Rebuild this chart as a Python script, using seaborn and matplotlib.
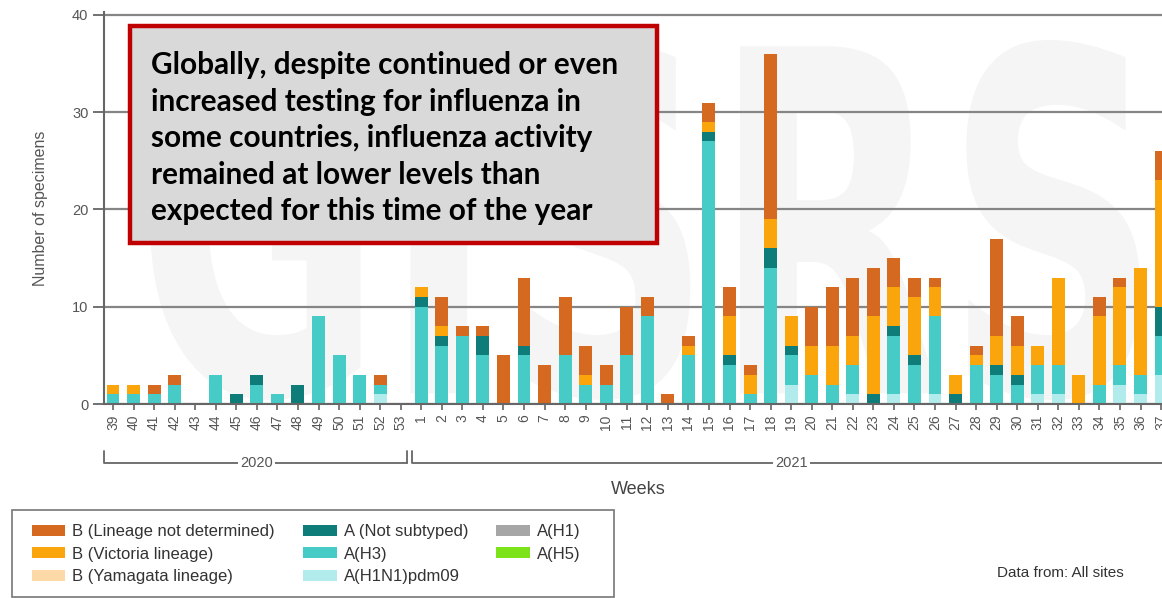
import numpy as np
import pandas as pd
import matplotlib
matplotlib.use("Agg")
import matplotlib.pyplot as plt
import seaborn as sns
from matplotlib.patches import Rectangle, Patch, PathPatch
from matplotlib.textpath import TextPath
from matplotlib.font_manager import FontProperties
from matplotlib.transforms import Affine2D, blended_transform_factory

# ---------------- data ----------------
weeks_2020 = [str(w) for w in range(39, 54)]
weeks_2021 = [str(w) for w in range(1, 38)]
week_labels = weeks_2020 + weeks_2021
week_keys = [f"2020-{w}" for w in weeks_2020] + [f"2021-{w}" for w in weeks_2021]

a_h1n1pdm09 = [0, 0, 0, 0, 0, 0, 0, 0, 0, 0, 0, 0, 0, 1, 0,
               0, 0, 0, 0, 0, 0, 0, 0, 0, 0, 0, 0, 0, 0, 0, 0, 0, 0,
               2, 0, 0, 1, 0, 1, 0, 1, 0, 0, 0, 0, 1, 1, 0, 0, 2, 1, 3]
a_h3 = [1, 1, 1, 2, 0, 3, 0, 2, 1, 0, 9, 5, 3, 1, 0,
        10, 6, 7, 5, 0, 5, 0, 5, 2, 2, 5, 9, 0, 5, 27, 4, 1, 14,
        3, 3, 2, 3, 0, 6, 4, 8, 0, 4, 3, 2, 3, 3, 0, 2, 2, 2, 4]
a_not_subtyped = [0, 0, 0, 0, 0, 0, 1, 1, 0, 2, 0, 0, 0, 0, 0,
                  1, 1, 0, 2, 0, 1, 0, 0, 0, 0, 0, 0, 0, 0, 1, 1, 0, 2,
                  1, 0, 0, 0, 1, 1, 1, 0, 1, 0, 1, 1, 0, 0, 0, 0, 0, 0, 3]
a_h1 = [0] * 52
a_h5 = [0] * 52
b_yamagata = [0] * 52
b_victoria = [1, 1, 0, 0, 0, 0, 0, 0, 0, 0, 0, 0, 0, 0, 0,
              1, 1, 0, 0, 0, 0, 0, 0, 1, 0, 0, 0, 0, 1, 1, 4, 2, 3,
              3, 3, 4, 3, 8, 4, 6, 3, 2, 1, 3, 3, 2, 9, 3, 7, 8, 11, 13]
b_not_determined = [0, 0, 1, 1, 0, 0, 0, 0, 0, 0, 0, 0, 0, 1, 0,
                    0, 3, 1, 1, 5, 7, 4, 6, 3, 2, 5, 2, 1, 1, 2, 3, 1, 17,
                    0, 4, 6, 6, 5, 3, 2, 1, 0, 1, 10, 3, 0, 0, 0, 2, 1, 0, 3]

series_names = ["A(H1N1)pdm09", "A(H3)", "A (Not subtyped)", "A(H1)", "A(H5)",
                "B (Yamagata lineage)", "B (Victoria lineage)", "B (Lineage not determined)"]
series_values = [a_h1n1pdm09, a_h3, a_not_subtyped, a_h1, a_h5,
                 b_yamagata, b_victoria, b_not_determined]
colors = {
    "B (Lineage not determined)": "#D4691F",
    "B (Victoria lineage)": "#FBA50C",
    "B (Yamagata lineage)": "#FDD9A8",
    "A (Not subtyped)": "#0E7C78",
    "A(H3)": "#47CBC7",
    "A(H1N1)pdm09": "#B2EBEC",
    "A(H1)": "#A6A6A6",
    "A(H5)": "#7CE31A",
}
legend_order = ["B (Lineage not determined)", "B (Victoria lineage)", "B (Yamagata lineage)",
                "A (Not subtyped)", "A(H3)", "A(H1N1)pdm09", "A(H1)", "A(H5)"]

# ---------------- figure ----------------
sns.set_style("white")
plt.rcParams['font.family'] = ['Liberation Sans', 'DejaVu Sans']

W, H = 1162, 598
fig = plt.figure(figsize=(W / 100, H / 100), dpi=100)

def fx(px):
    return px / W

def fy(py):
    return 1 - py / H

n = len(week_keys)
x_left, x_right = -0.45, 52.0
spacing = 20.55
ax_left_px = 113 + x_left * spacing
ax_right_px = 113 + x_right * spacing
y0_px, y40_px = 404, 15
ppu = (y0_px - y40_px) / 40
y_top = 40.3
ax_top_px = y0_px - y_top * ppu
ax = fig.add_axes([fx(ax_left_px), fy(y0_px), (ax_right_px - ax_left_px) / W,
                   (y0_px - ax_top_px) / H])
ax.patch.set_alpha(0)

# watermark
fp = FontProperties(family='DejaVu Sans', weight='bold')
tp = TextPath((0, 0), "GISRS", size=100, prop=fp)
ext = tp.get_extents()
bx0, bx1, by_top, by_bot = 150, 1140, 40, 400
sx = (bx1 - bx0) / ext.width
sy = (by_bot - by_top) / ext.height
tr = Affine2D().translate(-ext.x0, -ext.y0).scale(sx, sy).translate(bx0, H - by_bot)
wm = PathPatch(tp, transform=tr, facecolor="#f5f5f5", edgecolor="none", zorder=-5)
fig.patches.append(wm)
wm.set_figure(fig)

# stacked bars: draw cumulative totals from top layer to bottom
cum = np.zeros(n)
layers = []
for name, vals in zip(series_names, series_values):
    cum = cum + np.asarray(vals, dtype=float)
    layers.append((name, cum.copy()))
for name, vals in reversed(layers):
    sns.barplot(x=week_keys, y=vals, order=week_keys, color=colors[name],
                saturation=1, width=0.63, linewidth=0, ax=ax, zorder=2)

ax.set_xlim(x_left, x_right)
ax.set_ylim(0, y_top)
ax.set_yticks([0, 10, 20, 30, 40])
ax.set_xticks(range(n))
ax.set_xticklabels(week_labels, rotation=90, fontsize=10, color="#555555")
ax.tick_params(axis='y', labelsize=10.5, labelcolor="#555555", length=8, width=1.3,
               color="#666666", pad=3, left=True)
ax.tick_params(axis='x', length=4.5, width=1.2, color="#666666", pad=3, bottom=True)
ax.yaxis.grid(True, color="#858585", linewidth=1.6, zorder=0)
ax.xaxis.grid(False)
ax.set_axisbelow(True)
for s in ["top", "right"]:
    ax.spines[s].set_visible(False)
for s in ["left", "bottom"]:
    ax.spines[s].set_color("#666666")
    ax.spines[s].set_linewidth(1.5)
    ax.spines[s].set_zorder(3)
ax.set_xlabel("")
ax.set_ylabel("Number of specimens", fontsize=11.5, color="#555555")
ax.yaxis.set_label_coords((48 - ax_left_px) / (ax_right_px - ax_left_px), 0.5)

# year brackets
btr = blended_transform_factory(ax.transData, fig.transFigure)
line_kw = dict(color="#666666", lw=1.3, transform=btr, clip_on=False)
yb, yt = fy(463), fy(451)
for (a, b) in [(-0.45, 14.3), (14.55, 53.0)]:
    ax.plot([a, a, b], [yt, yb, yb], **line_kw)
    ax.plot([b, b], [yb, yt], **line_kw)
for xc, lab in [(7, "2020"), (33, "2021")]:
    ax.text(xc, yb, lab, transform=btr, ha="center", va="center", fontsize=10.5,
            color="#555555", bbox=dict(facecolor="white", edgecolor="none", pad=1.5))

fig.text(fx(638), fy(489), "Weeks", ha="center", va="center", fontsize=13, color="#444444")

# legend
fig.patches.append(Rectangle((fx(12), fy(597)), fx(614) - fx(12), fy(510) - fy(597),
                             transform=fig.transFigure, facecolor="white",
                             edgecolor="#777777", linewidth=1.2, figure=fig))
handles = [Patch(facecolor=colors[k], edgecolor="none", label=k) for k in legend_order]
fig.legend(handles=handles, loc="upper left", bbox_to_anchor=(fx(32), fy(524)),
           ncol=3, frameon=False, fontsize=12, handlelength=2.0, handleheight=0.65,
           handletextpad=0.42, columnspacing=1.7, labelspacing=0.46,
           borderpad=0, borderaxespad=0, labelcolor="#333333")

fig.text(fx(997), fy(573), "Data from: All sites", ha="left", va="center",
         fontsize=11, color="#333333")

# annotation box
fig.patches.append(Rectangle((fx(130), fy(243)), fx(657) - fx(130), fy(26) - fy(243),
                             transform=fig.transFigure, facecolor="#D9D9D9",
                             edgecolor="#C00000", linewidth=3.2, figure=fig, zorder=5))
box_lines = ["Globally, despite continued or even",
             "increased testing for influenza in",
             "some countries, influenza activity",
             "remained at lower levels than",
             "expected for this time of the year"]
box_font = ['Lato', 'DejaVu Sans']
t0 = fig.text(fx(151), fy(74), box_lines[0], fontsize=18, fontweight="bold",
              family=box_font, color="black", zorder=6)
fig.canvas.draw()
wpx = t0.get_window_extent().width
fs = 18 * 467 / wpx
t0.set_fontsize(fs)
for i, line in enumerate(box_lines[1:], start=1):
    fig.text(fx(151), fy(74 + 36.6 * i), line, fontsize=fs, fontweight="bold",
             family=box_font, color="black", zorder=6)

fig.savefig("out.png", dpi=100)
